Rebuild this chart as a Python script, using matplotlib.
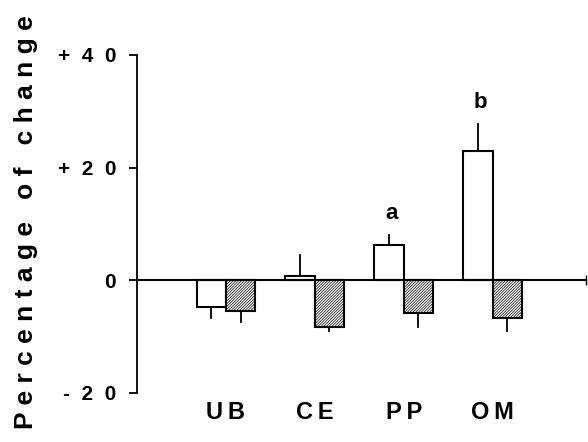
import numpy as np
import matplotlib
matplotlib.use("Agg")
import matplotlib.pyplot as plt

plt.rcParams['font.family'] = ['Liberation Sans', 'DejaVu Sans']
plt.rcParams['hatch.linewidth'] = 0.5

groups = ["U\u2009B", "C\u2009E", "P\u2009P", "O\u2009M"]
open_vals = [-4.8, 0.7, 6.2, 23.0]
open_err = [1.9, 3.7, 1.9, 4.8]
hatch_vals = [-5.5, -8.3, -5.8, -6.7]
hatch_err = [1.9, 0.7, 2.5, 2.3]
letters = ["", "", "a", "b"]
yticks = [-20, 0, 20, 40]
ytick_labels = ["-  2  0", "0", "+  2  0", "+  4  0"]

x = np.arange(len(groups))
w = 0.33

fig = plt.figure(figsize=(5.88, 4.42), dpi=100)
ax = fig.add_axes([0.233, 0.111, 0.765, 0.765])

ax.bar(x - w / 2, open_vals, w, color="white", edgecolor="black", linewidth=1.5, zorder=3)
ax.bar(x + w / 2, hatch_vals, w, color="white", edgecolor="black", linewidth=1.5,
       hatch="/" * 12, zorder=3)

# one-sided error lines, pointing away from zero
for xi, v, e in zip(x - w / 2, open_vals, open_err):
    ax.plot([xi, xi], [v, v + np.sign(v) * e], color="black", lw=1.3, zorder=2)
for xi, v, e in zip(x + w / 2, hatch_vals, hatch_err):
    ax.plot([xi, xi], [v, v + np.sign(v) * e], color="black", lw=1.3, zorder=2)

for xi, v, e, t in zip(x - w / 2, open_vals, open_err, letters):
    if t:
        ax.text(xi + 0.03, v + e + 1.8, t, ha="center", va="bottom",
                fontsize=16, fontweight="bold")

ax.set_xlim(-1.0, 4.06)
ax.set_ylim(-20, 40)
ax.axhline(0, color="black", lw=1.5, zorder=4)
ax.plot([4.05], [0], marker="|", markersize=7, color="black", clip_on=False)

for s in ["top", "right", "bottom"]:
    ax.spines[s].set_visible(False)
ax.spines["left"].set_linewidth(1.3)

ax.set_yticks(yticks)
ax.set_yticklabels(ytick_labels, fontsize=15, fontweight="bold")
ax.tick_params(axis="y", length=6, width=1.3, pad=9)

ax.set_xticks(x)
ax.set_xticklabels(groups, fontsize=17, fontweight="bold")
ax.tick_params(axis="x", length=0, pad=6)

fig.text(0.045, 0.497, "P e r c e n t a g e   o f   c h a n g e", rotation=90,
         ha="center", va="center", fontsize=19, fontweight="bold")

fig.savefig("out.png", dpi=100)
